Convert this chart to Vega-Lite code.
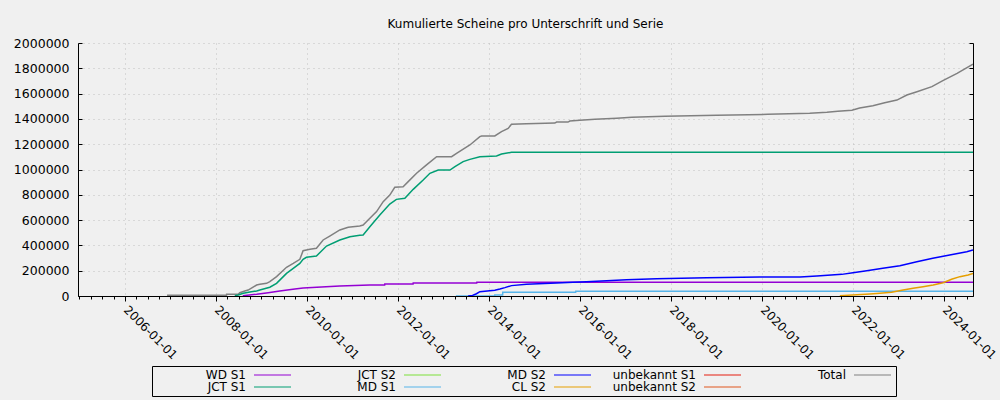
{
  "$schema": "https://vega.github.io/schema/vega-lite/v6.json",
  "width": 895,
  "height": 253,
  "autosize": {"type": "none"},
  "padding": {"left": 78, "top": 43, "right": 27, "bottom": 104},
  "background": "#f0f0f0",
  "config": {
    "font": "DejaVu Sans",
    "view": {"stroke": null},
    "axis": {"labelFont": "DejaVu Sans", "labelColor": "#000000", "domainColor": "#000000", "tickColor": "#000000"}
  },
  "title": {"text": "Kumulierte Scheine pro Unterschrift und Serie", "fontSize": 12, "fontWeight": "normal", "font": "DejaVu Sans", "color": "#000000", "anchor": "middle", "offset": 6},
  "data": {"values": [
    {"date": "2006-12-05", "series": "Total", "value": 5500},
    {"date": "2008-03-26", "series": "Total", "value": 5500},
    {"date": "2008-03-27", "series": "Total", "value": 13000},
    {"date": "2008-06-28", "series": "Total", "value": 13000},
    {"date": "2008-07-11", "series": "Total", "value": 26000},
    {"date": "2008-08-20", "series": "Total", "value": 39500},
    {"date": "2008-09-16", "series": "Total", "value": 47000},
    {"date": "2008-11-23", "series": "Total", "value": 87000},
    {"date": "2008-12-19", "series": "Total", "value": 92000},
    {"date": "2009-02-11", "series": "Total", "value": 100000},
    {"date": "2009-03-09", "series": "Total", "value": 113000},
    {"date": "2009-05-02", "series": "Total", "value": 153000},
    {"date": "2009-07-21", "series": "Total", "value": 227000},
    {"date": "2009-09-13", "series": "Total", "value": 258000},
    {"date": "2009-11-05", "series": "Total", "value": 290000},
    {"date": "2009-12-01", "series": "Total", "value": 358000},
    {"date": "2010-01-25", "series": "Total", "value": 369000},
    {"date": "2010-03-18", "series": "Total", "value": 377000},
    {"date": "2010-05-11", "series": "Total", "value": 443000},
    {"date": "2010-07-03", "series": "Total", "value": 474000},
    {"date": "2010-09-22", "series": "Total", "value": 522000},
    {"date": "2010-11-28", "series": "Total", "value": 543000},
    {"date": "2011-03-01", "series": "Total", "value": 553000},
    {"date": "2011-03-28", "series": "Total", "value": 561000},
    {"date": "2011-05-07", "series": "Total", "value": 601000},
    {"date": "2011-07-14", "series": "Total", "value": 667000},
    {"date": "2011-09-05", "series": "Total", "value": 746000},
    {"date": "2011-10-28", "series": "Total", "value": 798000},
    {"date": "2011-12-07", "series": "Total", "value": 859000},
    {"date": "2012-02-12", "series": "Total", "value": 864000},
    {"date": "2012-03-24", "series": "Total", "value": 904000},
    {"date": "2012-05-30", "series": "Total", "value": 970000},
    {"date": "2012-08-18", "series": "Total", "value": 1036000},
    {"date": "2012-11-07", "series": "Total", "value": 1101000},
    {"date": "2013-03-07", "series": "Total", "value": 1101000},
    {"date": "2013-04-16", "series": "Total", "value": 1128000},
    {"date": "2013-08-01", "series": "Total", "value": 1194000},
    {"date": "2013-10-20", "series": "Total", "value": 1260000},
    {"date": "2013-11-03", "series": "Total", "value": 1265000},
    {"date": "2014-02-17", "series": "Total", "value": 1265000},
    {"date": "2014-04-12", "series": "Total", "value": 1299000},
    {"date": "2014-06-04", "series": "Total", "value": 1325000},
    {"date": "2014-07-01", "series": "Total", "value": 1357000},
    {"date": "2014-10-29", "series": "Total", "value": 1362000},
    {"date": "2015-06-14", "series": "Total", "value": 1367000},
    {"date": "2015-06-28", "series": "Total", "value": 1375000},
    {"date": "2015-09-28", "series": "Total", "value": 1375000},
    {"date": "2015-10-12", "series": "Total", "value": 1383000},
    {"date": "2016-01-01", "series": "Total", "value": 1389000},
    {"date": "2016-05-01", "series": "Total", "value": 1397000},
    {"date": "2016-10-23", "series": "Total", "value": 1405000},
    {"date": "2017-02-21", "series": "Total", "value": 1413000},
    {"date": "2017-11-13", "series": "Total", "value": 1420000},
    {"date": "2019-01-05", "series": "Total", "value": 1428000},
    {"date": "2020-02-18", "series": "Total", "value": 1436000},
    {"date": "2021-01-19", "series": "Total", "value": 1444000},
    {"date": "2021-06-06", "series": "Total", "value": 1452000},
    {"date": "2021-09-02", "series": "Total", "value": 1460000},
    {"date": "2021-12-24", "series": "Total", "value": 1468000},
    {"date": "2022-02-24", "series": "Total", "value": 1486000},
    {"date": "2022-06-10", "series": "Total", "value": 1504000},
    {"date": "2022-09-13", "series": "Total", "value": 1528000},
    {"date": "2022-12-20", "series": "Total", "value": 1549000},
    {"date": "2023-03-10", "series": "Total", "value": 1589000},
    {"date": "2023-05-30", "series": "Total", "value": 1615000},
    {"date": "2023-09-27", "series": "Total", "value": 1655000},
    {"date": "2023-12-24", "series": "Total", "value": 1702000},
    {"date": "2024-04-16", "series": "Total", "value": 1760000},
    {"date": "2024-08-22", "series": "Total", "value": 1832000},

    {"date": "2008-06-01", "series": "JCT S1", "value": 2000},
    {"date": "2008-06-28", "series": "JCT S1", "value": 8000},
    {"date": "2008-08-08", "series": "JCT S1", "value": 21000},
    {"date": "2008-09-30", "series": "JCT S1", "value": 31600},
    {"date": "2008-11-23", "series": "JCT S1", "value": 39500},
    {"date": "2008-12-19", "series": "JCT S1", "value": 47000},
    {"date": "2009-03-09", "series": "JCT S1", "value": 69000},
    {"date": "2009-05-02", "series": "JCT S1", "value": 100000},
    {"date": "2009-07-21", "series": "JCT S1", "value": 179000},
    {"date": "2009-09-13", "series": "JCT S1", "value": 219000},
    {"date": "2009-11-05", "series": "JCT S1", "value": 258000},
    {"date": "2009-12-01", "series": "JCT S1", "value": 290000},
    {"date": "2009-12-28", "series": "JCT S1", "value": 306000},
    {"date": "2010-03-18", "series": "JCT S1", "value": 316000},
    {"date": "2010-06-07", "series": "JCT S1", "value": 395000},
    {"date": "2010-09-22", "series": "JCT S1", "value": 443000},
    {"date": "2010-12-12", "series": "JCT S1", "value": 469000},
    {"date": "2011-03-01", "series": "JCT S1", "value": 480000},
    {"date": "2011-03-28", "series": "JCT S1", "value": 482000},
    {"date": "2011-05-21", "series": "JCT S1", "value": 548000},
    {"date": "2011-08-09", "series": "JCT S1", "value": 640000},
    {"date": "2011-10-28", "series": "JCT S1", "value": 727000},
    {"date": "2011-12-20", "series": "JCT S1", "value": 764000},
    {"date": "2012-02-26", "series": "JCT S1", "value": 772000},
    {"date": "2012-05-03", "series": "JCT S1", "value": 843000},
    {"date": "2012-07-22", "series": "JCT S1", "value": 917000},
    {"date": "2012-09-14", "series": "JCT S1", "value": 970000},
    {"date": "2012-11-20", "series": "JCT S1", "value": 996000},
    {"date": "2013-02-22", "series": "JCT S1", "value": 996000},
    {"date": "2013-04-03", "series": "JCT S1", "value": 1022000},
    {"date": "2013-06-08", "series": "JCT S1", "value": 1062000},
    {"date": "2013-08-01", "series": "JCT S1", "value": 1080000},
    {"date": "2013-10-20", "series": "JCT S1", "value": 1101000},
    {"date": "2014-03-03", "series": "JCT S1", "value": 1107000},
    {"date": "2014-04-12", "series": "JCT S1", "value": 1122000},
    {"date": "2014-07-01", "series": "JCT S1", "value": 1136000},
    {"date": "2024-08-22", "series": "JCT S1", "value": 1136000},

    {"date": "2008-08-04", "series": "WD S1", "value": 2400},
    {"date": "2008-11-23", "series": "WD S1", "value": 13400},
    {"date": "2009-02-24", "series": "WD S1", "value": 26000},
    {"date": "2009-05-28", "series": "WD S1", "value": 39500},
    {"date": "2009-09-26", "series": "WD S1", "value": 55000},
    {"date": "2009-12-01", "series": "WD S1", "value": 63000},
    {"date": "2010-04-27", "series": "WD S1", "value": 71000},
    {"date": "2010-09-22", "series": "WD S1", "value": 79000},
    {"date": "2011-05-21", "series": "WD S1", "value": 87000},
    {"date": "2011-09-17", "series": "WD S1", "value": 87000},
    {"date": "2011-09-18", "series": "WD S1", "value": 95000},
    {"date": "2012-05-02", "series": "WD S1", "value": 95000},
    {"date": "2012-05-03", "series": "WD S1", "value": 103000},
    {"date": "2013-09-25", "series": "WD S1", "value": 103000},
    {"date": "2013-09-26", "series": "WD S1", "value": 108000},
    {"date": "2024-08-22", "series": "WD S1", "value": 108000},

    {"date": "2013-04-11", "series": "MD S1", "value": 0},
    {"date": "2014-02-16", "series": "MD S1", "value": 0},
    {"date": "2014-02-17", "series": "MD S1", "value": 8000},
    {"date": "2014-04-21", "series": "MD S1", "value": 8000},
    {"date": "2014-04-22", "series": "MD S1", "value": 29000},
    {"date": "2015-11-28", "series": "MD S1", "value": 29000},
    {"date": "2015-11-29", "series": "MD S1", "value": 37000},
    {"date": "2024-08-22", "series": "MD S1", "value": 37000},

    {"date": "2013-07-18", "series": "MD S2", "value": 0},
    {"date": "2013-08-22", "series": "MD S2", "value": 5000},
    {"date": "2013-09-23", "series": "MD S2", "value": 18000},
    {"date": "2013-10-20", "series": "MD S2", "value": 34000},
    {"date": "2014-02-17", "series": "MD S2", "value": 45000},
    {"date": "2014-03-30", "series": "MD S2", "value": 55000},
    {"date": "2014-05-09", "series": "MD S2", "value": 66000},
    {"date": "2014-07-01", "series": "MD S2", "value": 82000},
    {"date": "2014-10-29", "series": "MD S2", "value": 92000},
    {"date": "2015-06-28", "series": "MD S2", "value": 103000},
    {"date": "2015-11-07", "series": "MD S2", "value": 108000},
    {"date": "2016-02-23", "series": "MD S2", "value": 113000},
    {"date": "2016-08-03", "series": "MD S2", "value": 121000},
    {"date": "2017-01-10", "series": "MD S2", "value": 129000},
    {"date": "2017-09-08", "series": "MD S2", "value": 137000},
    {"date": "2018-10-14", "series": "MD S2", "value": 145000},
    {"date": "2019-12-15", "series": "MD S2", "value": 150000},
    {"date": "2020-11-02", "series": "MD S2", "value": 151000},
    {"date": "2021-03-18", "series": "MD S2", "value": 158000},
    {"date": "2021-10-04", "series": "MD S2", "value": 171000},
    {"date": "2022-01-01", "series": "MD S2", "value": 184000},
    {"date": "2022-04-22", "series": "MD S2", "value": 200000},
    {"date": "2022-08-29", "series": "MD S2", "value": 219000},
    {"date": "2023-01-13", "series": "MD S2", "value": 240000},
    {"date": "2023-05-29", "series": "MD S2", "value": 271000},
    {"date": "2023-10-04", "series": "MD S2", "value": 298000},
    {"date": "2024-02-17", "series": "MD S2", "value": 324000},
    {"date": "2024-07-03", "series": "MD S2", "value": 350000},
    {"date": "2024-08-22", "series": "MD S2", "value": 363000},

    {"date": "2021-09-18", "series": "CL S2", "value": 2400},
    {"date": "2022-05-17", "series": "CL S2", "value": 15800},
    {"date": "2022-08-05", "series": "CL S2", "value": 21000},
    {"date": "2022-11-07", "series": "CL S2", "value": 29000},
    {"date": "2023-02-08", "series": "CL S2", "value": 47000},
    {"date": "2023-04-29", "series": "CL S2", "value": 61000},
    {"date": "2023-07-18", "series": "CL S2", "value": 74000},
    {"date": "2023-10-07", "series": "CL S2", "value": 87000},
    {"date": "2023-12-26", "series": "CL S2", "value": 105000},
    {"date": "2024-03-03", "series": "CL S2", "value": 132000},
    {"date": "2024-05-09", "series": "CL S2", "value": 153000},
    {"date": "2024-07-14", "series": "CL S2", "value": 166000},
    {"date": "2024-08-22", "series": "CL S2", "value": 179000}
  ]},
  "layer": [
    {
      "mark": {"type": "line", "strokeWidth": 1.5, "interpolate": "linear", "clip": true},
      "encoding": {
        "x": {
          "field": "date", "type": "temporal", "title": null,
          "scale": {"domain": ["2004-12-20", "2024-08-22"]},
          "axis": {
            "tickCount": {"interval": "month", "step": 3},
            "labelExpr": "month(datum.value)==0 && year(datum.value)%2==0 ? timeFormat(datum.value,'%Y-%m-%d') : ''",
            "labelAngle": 45, "labelAlign": "left", "labelBaseline": "top", "labelFontSize": 12, "labelPadding": 3, "labelOffset": 4,
            "labelOverlap": false, "labelBound": false, "labelFlush": false,
            "tickSize": {"condition": {"test": "month(datum.value)==0 && year(datum.value)%2==0", "value": 5}, "value": 3},
            "grid": true, "gridColor": "#c0c0c0", "gridDash": [1, 4],
            "gridOpacity": {"condition": {"test": "month(datum.value)==0 && year(datum.value)%2==0", "value": 1}, "value": 0},
            "domainColor": "#000000"
          }
        },
        "y": {
          "field": "value", "type": "quantitative", "title": null,
          "scale": {"domain": [0, 2000000], "nice": false, "zero": true},
          "axis": {
            "orient": "left", "values": [0, 200000, 400000, 600000, 800000, 1000000, 1200000, 1400000, 1600000, 1800000, 2000000],
            "format": "d", "labelFontSize": 12.5, "tickSize": -4, "labelPadding": 13,
            "grid": true, "gridColor": "#c0c0c0", "gridDash": [1, 4]
          }
        },
        "color": {
          "field": "series", "type": "nominal",
          "scale": {
            "domain": ["WD S1", "JCT S2", "MD S2", "unbekannt S1", "Total", "JCT S1", "MD S1", "CL S2", "unbekannt S2"],
            "range": ["#9400d3", "#7ce03a", "#0000ff", "#e51e10", "#808080", "#009e73", "#56b4e9", "#e69f00", "#e0561e"]
          },
          "legend": {
            "orient": "none", "legendX": 74, "legendY": 323, "columns": 5, "direction": "horizontal",
            "title": null, "symbolType": "M 0 0 L 0 0 M 93 0 L 130 0", "symbolSize": 4, "symbolStrokeWidth": 1,
            "labelAlign": "right", "labelOffset": 79, "labelFontSize": 12, "labelFont": "DejaVu Sans", "labelColor": "#000000",
            "columnPadding": 12, "rowPadding": 0, "padding": 3, "gridAlign": "all",
            "strokeColor": "#000000", "fillColor": "#f0f0f0", "cornerRadius": 0
          }
        }
      }
    },
    {
      "mark": {"type": "rule", "opacity": 0},
      "encoding": {
        "y": {
          "field": "value", "type": "quantitative",
          "axis": {"orient": "right", "labels": false, "title": null, "grid": false, "tickSize": -4,
            "values": [0, 200000, 400000, 600000, 800000, 1000000, 1200000, 1400000, 1600000, 1800000, 2000000]}
        }
      }
    }
  ],
  "resolve": {"axis": {"y": "independent"}}
}
